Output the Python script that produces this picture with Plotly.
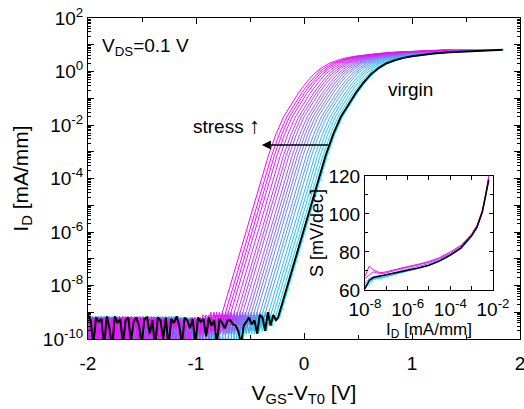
import numpy as np
import plotly.graph_objects as go

# ---------------- data ----------------
# virgin curve: noise floor (log10 I_D) sampled from -2.0 to -0.26 V
virgin_noise_log = [-9.1, -9.3, -10.2, -9.2, -9.35, -9.25, -10.3, -9.15, -9.6, -10.3,
                    -9.15, -9.4, -9.25, -10.2, -9.3, -9.2, -10.1, -9.35, -9.2, -9.5,
                    -10.2, -9.25, -9.2, -9.8, -9.3, -10.3, -9.2, -9.3, -10.0, -9.2,
                    -10.3, -9.25, -9.4, -9.15, -9.5, -10.2, -9.2, -9.3, -9.6, -9.25,
                    -10.2, -9.2, -9.35, -9.25, -9.9, -9.2, -9.5, -9.3, -10.2, -9.25,
                    -9.4, -9.6, -9.3, -9.3, -9.45, -9.5, -9.7, -10.2, -9.5, -9.35,
                    -9.2, -9.45, -9.3, -9.8, -9.1, -9.2, -9.7, -9.0, -9.5, -9.1, -9.3]
noise_x_start, noise_x_end = -2.0, -0.26
# virgin curve: rising part
virgin_rise_x = [-0.24, -0.15, -0.05, 0.05, 0.13, 0.20, 0.27, 0.34, 0.41, 0.48, 0.55, 0.62,
                 0.69, 0.76, 0.84, 0.92, 1.00, 1.10, 1.20, 1.35, 1.50, 1.67, 1.84]
virgin_rise_log = [-9.2, -7.95, -6.55, -5.15, -4.05, -3.15, -2.35, -1.70, -1.25, -0.80, -0.42,
                   -0.10, 0.13, 0.30, 0.42, 0.51, 0.57, 0.63, 0.67, 0.72, 0.75, 0.78, 0.81]
# threshold shifts of the stressed curves (V), from most stressed (magenta) to least (cyan)
stress_shifts = [0.53, 0.50, 0.475, 0.45, 0.42, 0.39, 0.365, 0.34, 0.31, 0.285, 0.26,
                 0.235, 0.21, 0.18, 0.155, 0.13, 0.10, 0.075, 0.05, 0.025, 0.0, -0.015]

# inset: subthreshold swing vs I_D
inset_logid = [-8, -7.8, -7.6, -7.3, -7.0, -6.5, -6.0, -5.5, -5.0, -4.5, -4.0, -3.5,
               -3.0, -2.75, -2.5, -2.35, -2.2]
inset_S_virgin = [60.5, 65, 66.5, 67.2, 67.8, 69, 70.2, 71.5, 73, 75.3, 78.3, 82, 88.5, 93, 101, 109, 118]
inset_S_stress = [
    [61, 63.5, 65.5, 66, 67, 68.5, 70, 71.3, 72.8, 75, 78, 81.8, 88.3, 92.8, 100.8, 108.7, 118],
    [62, 64, 66, 66.5, 67, 68.5, 70, 71.5, 73, 75.3, 78.5, 82.3, 88.5, 93, 101, 109, 118],
    [63, 66, 67, 67.5, 68, 69.5, 71, 72.3, 73.8, 76, 79, 82.5, 88.7, 93.2, 101.2, 109, 118.5],
    [66, 68, 69.5, 68.5, 69, 70.5, 71.8, 73, 74.5, 76.5, 79.3, 83, 89, 93.5, 101.5, 109.5, 119],
    [67, 72.5, 70.5, 69, 69.5, 71, 72.3, 73.5, 75, 77, 80, 83.5, 89.5, 94, 102, 110, 120],
]

# ---------------- helpers ----------------
FONT = "Liberation Sans, Arial, sans-serif"
cyan = np.array([0, 235, 240])
magenta = np.array([250, 0, 250])


def grad(t):  # t=0 cyan, t=1 magenta
    c = cyan + (magenta - cyan) * t
    return "rgb(%d,%d,%d)" % tuple(c.round().astype(int))


noise_x = np.linspace(noise_x_start, noise_x_end, len(virgin_noise_log))
vx = np.concatenate([noise_x, virgin_rise_x])
vlog = np.concatenate([virgin_noise_log, virgin_rise_log])
vy = 10.0 ** vlog

fig = go.Figure()

# stressed curves, cyan first so magenta lies on top
n = len(stress_shifts)
for i, s in reversed(list(enumerate(stress_shifts))):
    t = 1 - i / (n - 1)
    fig.add_trace(go.Scatter(x=vx - s, y=vy, mode="lines",
                             line=dict(color=grad(t), width=1),
                             showlegend=False, xaxis="x", yaxis="y"))
fig.add_trace(go.Scatter(x=vx, y=vy, mode="lines", line=dict(color="black", width=2),
                         showlegend=False, xaxis="x", yaxis="y"))

# inset
m = len(inset_S_stress)
for j, S in enumerate(inset_S_stress):
    fig.add_trace(go.Scatter(x=10.0 ** np.array(inset_logid), y=S, mode="lines",
                             line=dict(color=grad(j / (m - 1)), width=1),
                             showlegend=False, xaxis="x2", yaxis="y2"))
fig.add_trace(go.Scatter(x=10.0 ** np.array(inset_logid), y=inset_S_virgin, mode="lines",
                         line=dict(color="black", width=1.5),
                         showlegend=False, xaxis="x2", yaxis="y2"))

ydec = list(range(-10, 3))
ytickvals = [10.0 ** k for k in ydec]
yticktext = ["10<sup>%d</sup>" % k if k % 2 == 0 else "" for k in ydec]
yminor = [mm * 10.0 ** k for k in range(-10, 2) for mm in range(2, 10)]

axis_common = dict(showline=True, linecolor="black", linewidth=1, mirror="ticks",
                   ticks="inside", tickcolor="black", showgrid=False, zeroline=False,
                   automargin=False, ticklabeloverflow="allow")

fig.update_layout(
    width=524, height=409,
    margin=dict(l=88, r=4, t=18, b=70),
    paper_bgcolor="white", plot_bgcolor="white",
    font=dict(family=FONT, color="black", size=19),
    xaxis=dict(axis_common, domain=[0, 1], range=[-2, 2], tickvals=[-2, -1, 0, 1, 2],
               ticktext=["-2", "-1", "0", "1", "2"], ticklen=6, ticklabelstandoff=7,
               minor=dict(tickvals=[-1.5, -0.5, 0.5, 1.5], ticks="inside", ticklen=4,
                          tickcolor="black"),
               tickfont=dict(size=19),
               title=dict(text="V<sub>GS</sub>-V<sub>T0</sub> [V]", font=dict(size=21), standoff=12)),
    yaxis=dict(axis_common, domain=[0, 1], type="log", range=[-10, 2], tickvals=ytickvals,
               ticktext=yticktext, ticklen=6,
               minor=dict(tickvals=yminor, ticks="inside", ticklen=3, tickcolor="black"),
               tickfont=dict(size=19),
               title=dict(text="I<sub>D</sub> [mA/mm]", font=dict(size=21), standoff=8)),
    xaxis2=dict(axis_common, domain=[0.641, 0.9375], anchor="y2", type="log", range=[-8, -2],
                tickvals=[10.0 ** k for k in range(-8, -1)],
                ticktext=["10<sup>%d</sup>" % k if k % 2 == 0 else "" for k in range(-8, -1)],
                ticklen=4, tickfont=dict(size=19), ticklabelstandoff=2,
                title=dict(text="I<sub>D</sub> [mA/mm]", font=dict(size=17), standoff=0)),
    yaxis2=dict(axis_common, domain=[0.153, 0.508], anchor="x2", range=[60, 120],
                tickvals=[60, 80, 100, 120], ticklen=4,
                minor=dict(tickvals=[70, 90, 110], ticks="inside", ticklen=3, tickcolor="black"),
                tickfont=dict(size=19),
                title=dict(text="S [mV/dec]", font=dict(size=18), standoff=0)),
)

fig.add_annotation(x=-1.89, y=0.92, xref="x", yref="y", text="V<sub>DS</sub>=0.1 V",
                   showarrow=False, xanchor="left", yanchor="middle", font=dict(size=19))
fig.add_annotation(x=-0.72, y=-2.0, xref="x", yref="y",
                   text="stress <span style='font-size:22px'>\u2191</span>",
                   showarrow=False, xanchor="center", yanchor="middle", font=dict(size=19))
fig.add_annotation(x=0.99, y=-0.69, xref="x", yref="y", text="virgin",
                   showarrow=False, xanchor="center", yanchor="middle", font=dict(size=19))
fig.add_annotation(x=-0.39, y=-2.75, ax=0.24, ay=-2.75, xref="x", yref="y", axref="x", ayref="y",
                   text="", showarrow=True, arrowhead=2, arrowsize=1.2, arrowwidth=1.5,
                   arrowcolor="black")

fig.write_html("out.html")
